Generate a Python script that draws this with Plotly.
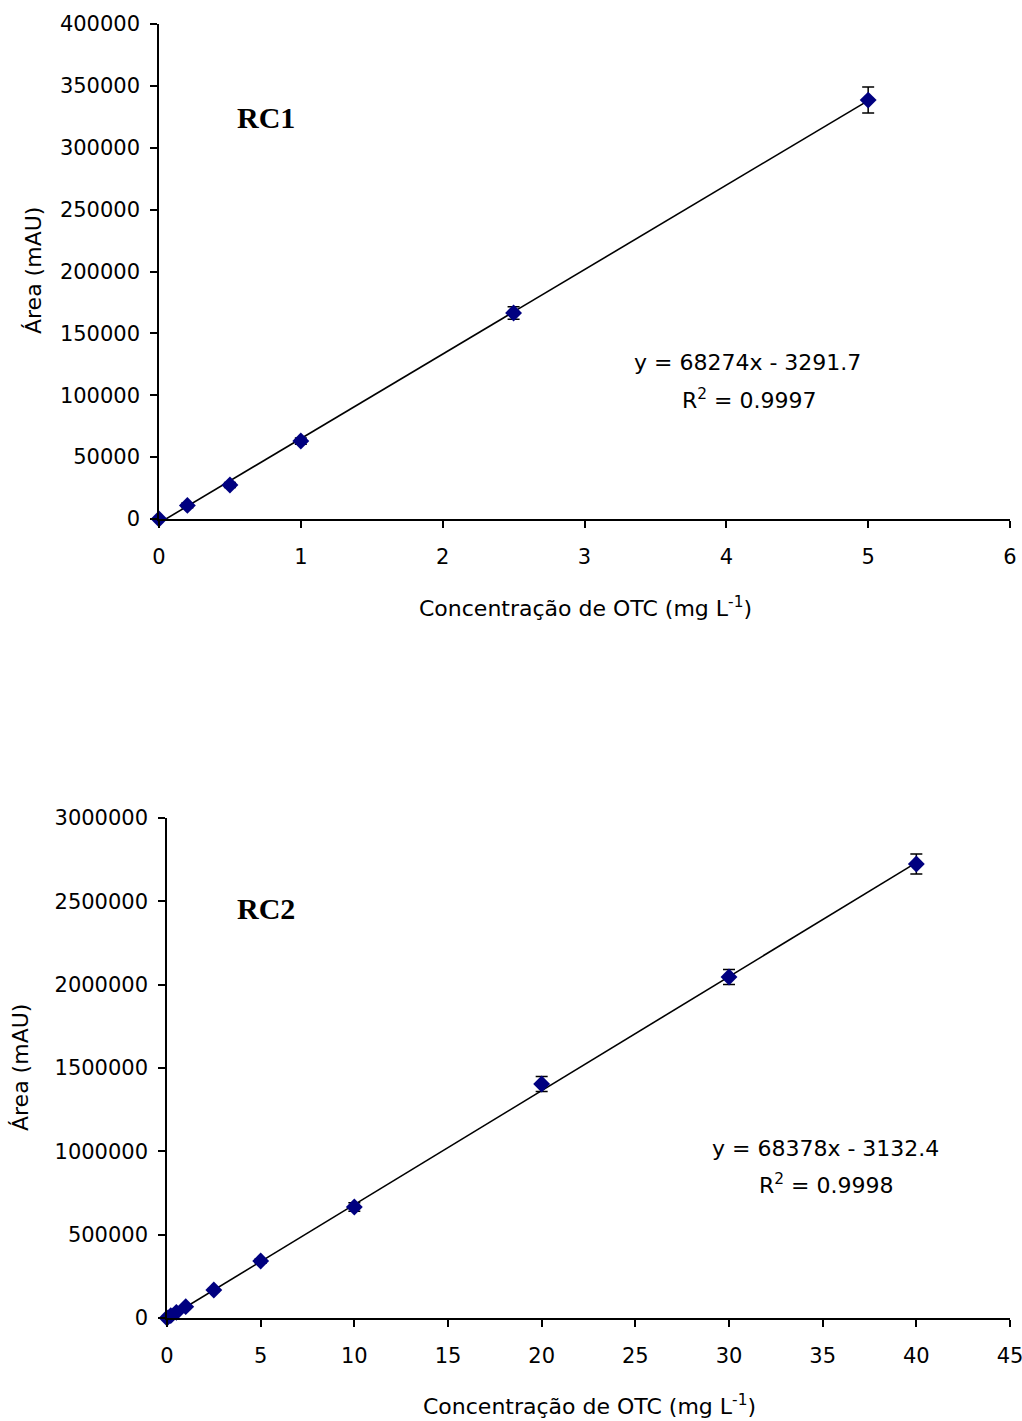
import plotly.graph_objects as go

# Calibration curve RC1 (0-5 mg/L)
rc1_conc = [0, 0.2, 0.5, 1, 2.5, 5]
rc1_area = [0, 11000, 27500, 63000, 166500, 338500]
rc1_err = [0, 2000, 2000, 2500, 5000, 10500]
rc1_slope, rc1_intercept = 68274, -3291.7
rc1_r2 = "0.9997"

# Calibration curve RC2 (0-40 mg/L)
rc2_conc = [0, 0.2, 0.5, 1, 2.5, 5, 10, 20, 30, 40]
rc2_area = [0, 14000, 34000, 68000, 168000, 342000, 666000, 1404000, 2046000, 2724000]
rc2_err = [0, 3000, 4000, 5000, 9000, 14000, 25000, 45000, 45000, 60000]
rc2_slope, rc2_intercept = 68378, -3132.4
rc2_r2 = "0.9998"

W, H = 1022, 1421
FONT = "DejaVu Sans, Arial, sans-serif"
SERIF = "Liberation Serif, Times New Roman, serif"
MARK = "#000080"

def px(x):
    return x / W

def py(y):
    return 1 - y / H

fig = go.Figure()

def add_curve(conc, area, err, slope, intercept, xa, ya):
    xs = [conc[0], conc[-1]]
    fig.add_trace(go.Scatter(
        x=xs, y=[slope * v + intercept for v in xs], mode="lines",
        line=dict(color="black", width=1.6), xaxis=xa, yaxis=ya,
        showlegend=False, hoverinfo="skip"))
    fig.add_trace(go.Scatter(
        x=conc, y=area, mode="markers",
        marker=dict(symbol="diamond", size=13, color=MARK),
        error_y=dict(type="data", array=err, color="black", thickness=1.5, width=6),
        xaxis=xa, yaxis=ya, cliponaxis=False, showlegend=False))

add_curve(rc1_conc, rc1_area, rc1_err, rc1_slope, rc1_intercept, "x", "y")
add_curve(rc2_conc, rc2_area, rc2_err, rc2_slope, rc2_intercept, "x2", "y2")

axis_common = dict(
    showgrid=False, zeroline=False, showline=True, linecolor="black", linewidth=1.5,
    ticks="outside", ticklen=7, tickwidth=1.5, tickcolor="black", automargin=False,
    ticklabeloverflow="allow",
    tickfont=dict(family=FONT, size=21, color="black"), tickformat="d",
)
xcommon = dict(axis_common, ticklabelstandoff=11)
ycommon = dict(axis_common, ticklabelstandoff=6)

fig.update_layout(
    width=W, height=H, margin=dict(l=0, r=0, t=0, b=0, pad=0),
    paper_bgcolor="white", plot_bgcolor="white",
    xaxis=dict(xcommon, domain=[px(159), px(1010)], range=[0, 6], dtick=1,
               anchor="y"),
    yaxis=dict(ycommon, domain=[py(519), py(24)], range=[0, 400000], dtick=50000,
               anchor="x"),
    xaxis2=dict(xcommon, domain=[px(167), px(1010)], range=[0, 45], dtick=5,
                anchor="y2"),
    yaxis2=dict(ycommon, domain=[py(1318), py(818)], range=[0, 3000000],
                dtick=500000, anchor="x2"),
)

def text(x, y, s, size=22, family=FONT, angle=0):
    fig.add_annotation(x=px(x), y=py(y), xref="paper", yref="paper", text=s,
                       showarrow=False, xanchor="center", yanchor="middle",
                       textangle=angle, font=dict(family=family, size=size, color="black"))

xtitle = "Concentração de OTC (mg L<sup>-1</sup>)"
text(585, 607, xtitle)
text(589, 1405, xtitle)
text(33, 271, "Área (mAU)", angle=-90)
text(20, 1068, "Área (mAU)", angle=-90)

text(266, 117, "<b>RC1</b>", size=30, family=SERIF)
text(266, 909, "<b>RC2</b>", size=30, family=SERIF)

text(747, 362, f"y = {rc1_slope}x - {abs(rc1_intercept)}")
text(749, 399, f"R<sup>2</sup> = {rc1_r2}")
text(825, 1148, f"y = {rc2_slope}x - {abs(rc2_intercept)}")
text(826, 1184, f"R<sup>2</sup> = {rc2_r2}")

fig.write_html("out.html")
